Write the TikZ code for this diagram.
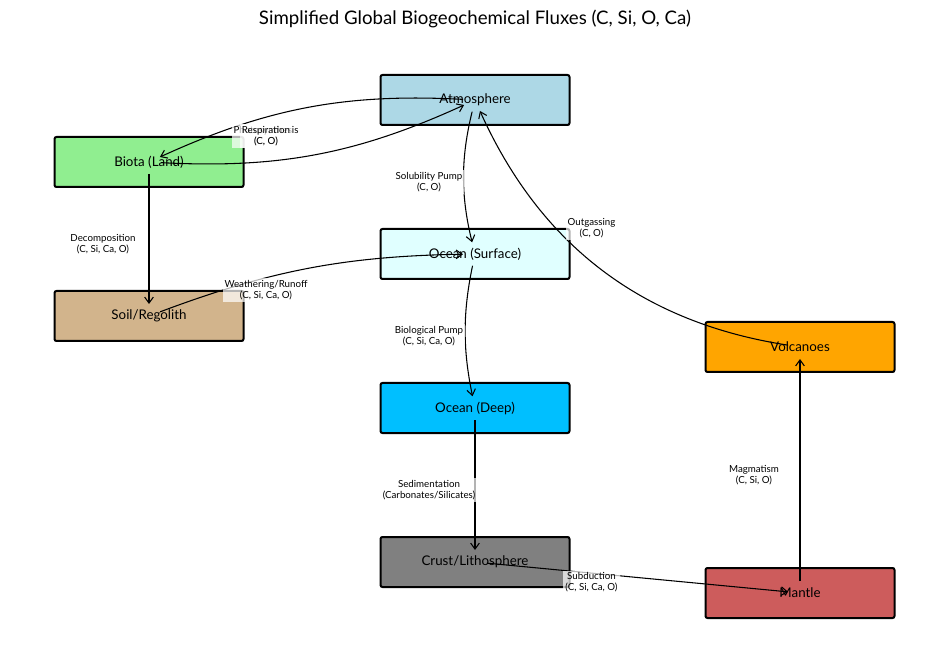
\documentclass[tikz,border=0pt]{standalone}
\usepackage{fontspec}
\setmainfont{Lato}
\usetikzlibrary{arrows.meta,calc}
\definecolor{atmc}{HTML}{ADD8E6}
\definecolor{biotac}{HTML}{90EE90}
\definecolor{osurfc}{HTML}{E0FFFF}
\definecolor{soilc}{HTML}{D2B48C}
\definecolor{volcc}{HTML}{FFA500}
\definecolor{deepc}{HTML}{00BFFF}
\definecolor{crustc}{HTML}{808080}
\definecolor{mantc}{HTML}{CD5C5C}
\begin{document}
\begin{tikzpicture}[x=0.75pt,y=-0.75pt,
  box/.style={draw=black, line width=1.5pt, rounded corners=1.5pt, minimum width=141.75pt, minimum height=37.5pt, inner sep=0pt, font=\fontsize{10}{12}\selectfont},
  flow/.style={draw=black, line width=0.8pt, -{Straight Barb[length=4.5pt,width=6.5pt]}, shorten <=9pt, shorten >=9pt},
  lbl/.style={fill=white, fill opacity=0.7, text opacity=1, align=center, inner sep=1.5pt, font=\fontsize{7.3}{8.4}\selectfont},
  ttl/.style={font=\fontsize{14}{16}\selectfont}]
\useasboundingbox[fill=white] (0,0) rectangle (950,659);
\node[ttl] (title) at (475,19) {Simplified Global Biogeochemical Fluxes (C, Si, O, Ca)};
% nodes
\node[box, fill=atmc] (atm) at (475,100) {Atmosphere};
\node[box, fill=biotac] (bio) at (149,162) {Biota (Land)};
\node[box, fill=osurfc] (osurf) at (475,254) {Ocean (Surface)};
\node[box, fill=soilc] (soil) at (149,316) {Soil/Regolith};
\node[box, fill=volcc] (volc) at (800,347) {Volcanoes};
\node[box, fill=deepc] (odeep) at (475,408) {Ocean (Deep)};
\node[box, fill=crustc] (crust) at (475,562) {Crust/Lithosphere};
\node[box, fill=mantc] (mant) at (800,593) {Mantle};
% edges
\draw[flow] (atm.center) to[bend right=13.8] (bio.center);
\draw[flow] (bio.center) to[bend right=13.8] (atm.center);
\draw[flow] (atm.center) to[bend right=13.8] (osurf.center);
\draw[flow] (bio.center) -- (soil.center);
\draw[flow] (soil.center) to[bend left=9.8] (osurf.center);
\draw[flow] (osurf.center) to[bend right=11.8] (odeep.center);
\draw[flow] (odeep.center) -- (crust.center);
\draw[flow] (crust.center) -- (mant.center);
\draw[flow] (mant.center) -- (volc.center);
\draw[flow] (volc.center) to[bend left=28.5] (atm.center);
% labels
\node[lbl] (lphoto) at ($(atm)!0.5!(bio)+(-46,5)$) {Photosynthesis\\(C, O)};
\node[lbl] (lresp) at ($(bio)!0.5!(atm)+(-46,5)$) {Respiration\\(C, O)};
\node[lbl] (lsol) at ($(atm)!0.5!(osurf)+(-46,5)$) {Solubility Pump\\(C, O)};
\node[lbl] (ldec) at ($(bio)!0.5!(soil)+(-46,5)$) {Decomposition\\(C, Si, Ca, O)};
\node[lbl] (lweat) at ($(soil)!0.5!(osurf)+(-46,5)$) {Weathering/Runoff\\(C, Si, Ca, O)};
\node[lbl] (lbio) at ($(osurf)!0.5!(odeep)+(-46,5)$) {Biological Pump\\(C, Si, Ca, O)};
\node[lbl] (lsed) at ($(odeep)!0.5!(crust)+(-46,5)$) {Sedimentation\\(Carbonates/Silicates)};
\node[lbl] (lsub) at ($(crust)!0.5!(mant)+(-46,5)$) {Subduction\\(C, Si, Ca, O)};
\node[lbl] (lmag) at ($(mant)!0.5!(volc)+(-46,5)$) {Magmatism\\(C, Si, O)};
\node[lbl] (lout) at ($(volc)!0.5!(atm)+(-46,5)$) {Outgassing\\(C, O)};
\end{tikzpicture}
\end{document}
